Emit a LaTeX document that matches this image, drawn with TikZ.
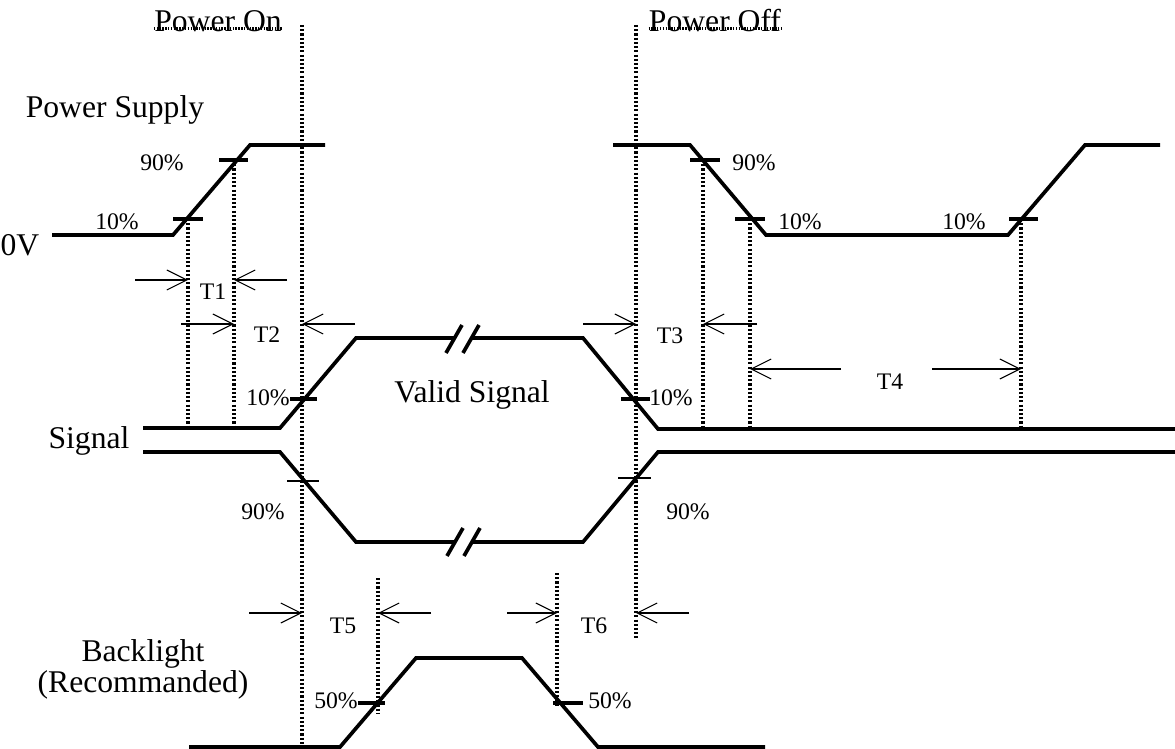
\documentclass[tikz,border=0pt]{standalone}
\usepackage{fontspec}
\setmainfont{Liberation Serif}
\usetikzlibrary{arrows.meta}

\begin{document}
\begin{tikzpicture}[
    x=0.02cm, y=-0.02cm,
    wave/.style={line width=2.1pt, line join=miter},
    guide/.style={line width=2pt, dash pattern=on 1.2pt off 1.2pt},
    strike/.style={line width=1.3pt, dash pattern=on 0.8pt off 0.8pt},
    tick/.style={line width=2.2pt},
    thintick/.style={line width=0.7pt},
    dim/.style={-{Straight Barb[length=4mm,width=4mm]}, line width=0.6pt},
    big/.style={font=\fontsize{18}{20}\selectfont, inner sep=0pt, anchor=base},
    small/.style={font=\fontsize{13.5}{15}\selectfont, inner sep=0pt, anchor=base}
]
\useasboundingbox (0,0) rectangle (1175,749);

% Titles
\node[big] (pon) at (218,32) {Power On};
\node[big] (poff) at (715,32) {Power Off};
\draw[strike] ([yshift=0.07cm]pon.base west) -- ([yshift=0.07cm]pon.base east);
\draw[strike] ([yshift=0.07cm]poff.base west) -- ([yshift=0.07cm]poff.base east);

% Power supply
\node[big] (psu) at (115,118) {Power Supply};
\node[big] (zero) at (20,256) {0V};
\draw[wave] (52,235) -- (173,235) -- (250,145) -- (325,145);
\draw[wave] (613,145) -- (690,145) -- (766,235) -- (1008,235) -- (1085,145) -- (1160,145);
\draw[tick] (173,219) -- (203,219);
\draw[tick] (219,160) -- (248,160);
\draw[tick] (690,160) -- (720,160);
\draw[tick] (735,219) -- (765,219);
\draw[tick] (1009,219) -- (1038,219);
\node[small] (ps10a) at (117,230) {10\%};
\node[small] (ps90a) at (162,171) {90\%};
\node[small] (ps90b) at (754,171) {90\%};
\node[small] (ps10b) at (800,230) {10\%};
\node[small] (ps10c) at (964,230) {10\%};

% Guide lines
\draw[guide] (188,219) -- (188,428);
\draw[guide] (234,160) -- (234,428);
\draw[guide] (302,25) -- (302,747);
\draw[guide] (636,25) -- (636,638);
\draw[guide] (703,160) -- (703,428);
\draw[guide] (750,219) -- (750,429);
\draw[guide] (1021,219) -- (1021,429);
\draw[guide] (378,578) -- (378,713);
\draw[guide] (557,573) -- (557,707);

% Signal
\node[big] (sig) at (89,448) {Signal};
\node[big] (valid) at (472,402) {Valid Signal};
\draw[wave] (143,428) -- (280,428) -- (356,338) -- (454,338);
\draw[wave] (471,338) -- (583,338) -- (658,429) -- (1175,429);
\draw[wave] (446,353) -- (462,325) (463,353) -- (479,325);
\draw[wave] (143,452) -- (280,452) -- (356,542) -- (455,542);
\draw[wave] (472,542) -- (583,542) -- (658,452) -- (1175,452);
\draw[wave] (447,556) -- (463,528) (464,556) -- (480,528);
\draw[tick] (290,399) -- (317,399);
\draw[tick] (621,399) -- (650,399);
\draw[thintick] (287,481) -- (319,481);
\draw[thintick] (618,478) -- (651,478);
\node[small] (sg10a) at (268,405) {10\%};
\node[small] (sg10b) at (671,405) {10\%};
\node[small] (sg90a) at (263,519) {90\%};
\node[small] (sg90b) at (688,519) {90\%};

% Backlight
\node[big] (bl) at (143,661) {Backlight};
\node[big] (blrec) at (143,692) {(Recommanded)};
\draw[wave] (189,747) -- (340,747) -- (416,658) -- (522,658) -- (598,747) -- (765,747);
\draw[tick] (358,703) -- (385,703);
\draw[tick] (553,703) -- (583,703);
\node[small] (bl50a) at (336,708) {50\%};
\node[small] (bl50b) at (610,708) {50\%};

% Timing arrows
\draw[dim] (135,280) -- (188,280);
\draw[dim] (287,280) -- (234,280);
\node[small] (t1) at (213,300) {T1};
\draw[dim] (181,324) -- (234,324);
\draw[dim] (355,324) -- (302,324);
\node[small] (t2) at (267,343) {T2};
\draw[dim] (583,324) -- (636,324);
\draw[dim] (757,324) -- (703,324);
\node[small] (t3) at (670,344) {T3};
\draw[dim] (841,369) -- (750,369);
\draw[dim] (932,369) -- (1021,369);
\node[small] (t4) at (890,389) {T4};
\draw[dim] (249,613) -- (302,613);
\draw[dim] (431,613) -- (378,613);
\node[small] (t5) at (343,633) {T5};
\draw[dim] (507,613) -- (557,613);
\draw[dim] (689,613) -- (636,613);
\node[small] (t6) at (594,633) {T6};

\end{tikzpicture}
\end{document}
